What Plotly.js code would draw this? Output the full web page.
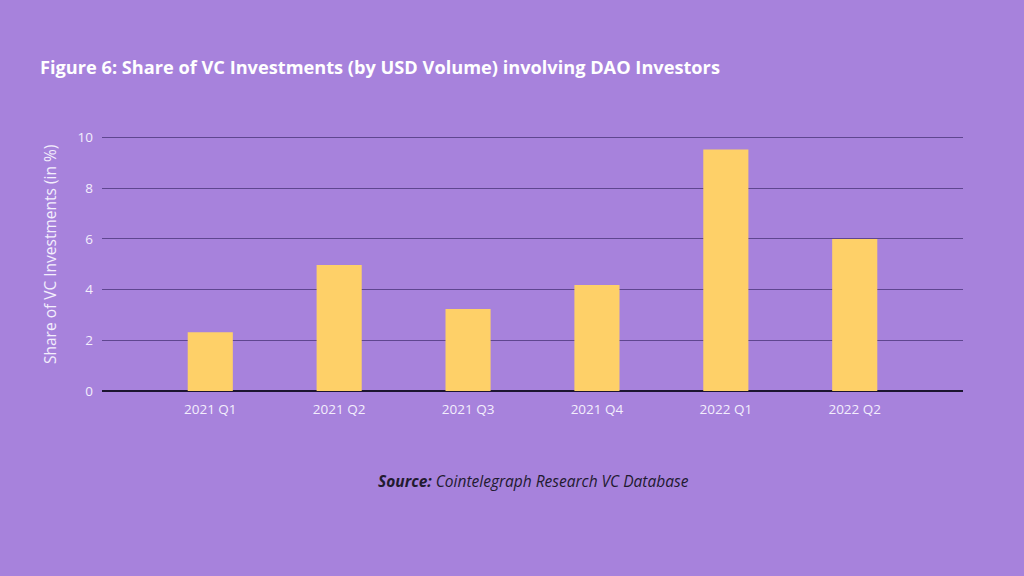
<!DOCTYPE html>
<html>
<head>
<meta charset="utf-8">
<script src="https://cdn.plot.ly/plotly-3.0.1.min.js"></script>
<style>
  html, body { margin: 0; padding: 0; background: #a782dc; }
  #chart { width: 1024px; height: 576px; }
</style>
</head>
<body>
<div id="chart"></div>
<script>
const quarters = ["2021 Q1", "2021 Q2", "2021 Q3", "2021 Q4", "2022 Q1", "2022 Q2"];
const sharePct = [2.32, 4.97, 3.24, 4.18, 9.53, 6.0];
const yTicks = [0, 2, 4, 6, 8, 10];

const bg = "#a782dc";
const fontFamily = "'Open Sans', Lato, sans-serif";

// plot box in pixels
const W = 1024, H = 576;
const M = { l: 102, r: 61, t: 135, b: 185 };
const plotW = W - M.l - M.r;
const plotH = H - M.t - M.b;

let trace = {
    type: "bar",
    x: quarters,
    y: sharePct,
    marker: { color: "#fed068", line: { width: 0 } },
    hoverinfo: "x+y"
};

let layout = {
    width: W,
    height: H,
    paper_bgcolor: bg,
    plot_bgcolor: bg,
    showlegend: false,
    bargap: 0.65,
    margin: M,
    font: { family: fontFamily, color: "#f3eefc", size: 13 },
    title: {
        text: "<b>Figure 6: Share of VC Investments (by USD Volume) involving DAO Investors</b>",
        x: 40 / W,
        xanchor: "left",
        y: 1 - 68 / H,
        yanchor: "middle",
        font: { family: fontFamily, size: 18.2, color: "#ffffff" }
    },
    xaxis: {
        type: "category",
        range: [-0.84, 5.84],
        showgrid: false,
        showline: false,
        zeroline: false,
        ticks: "",
        ticklabelstandoff: 8,
        tickfont: { size: 13.5, color: "#f3eefc" }
    },
    yaxis: {
        range: [0, 10.1],
        tickvals: yTicks,
        ticktext: yTicks.map(String),
        showgrid: true,
        gridcolor: "#5f4690",
        gridwidth: 1,
        zeroline: true,
        zerolinecolor: "#1c1530",
        zerolinewidth: 1.5,
        showline: false,
        ticks: "",
        ticklen: 0,
        ticklabelstandoff: 8,
        tickfont: { size: 13.5, color: "#f3eefc" }
    },
    annotations: [{
        text: "Share of VC Investments (in %)",
        textangle: -90,
        xref: "paper",
        yref: "paper",
        x: (50 - M.l) / plotW,
        y: 1 - (255 - M.t) / plotH,
        xanchor: "center",
        yanchor: "middle",
        showarrow: false,
        font: { family: fontFamily, size: 15.5, color: "#f3eefc" }
    }, {
        text: "<b><i>Source:</i></b><i> Cointelegraph Research VC Database</i>",
        xref: "paper",
        yref: "paper",
        x: (533 - M.l) / plotW,
        y: -(481 - (H - M.b)) / plotH,
        xanchor: "center",
        yanchor: "middle",
        showarrow: false,
        font: { family: fontFamily, size: 15.5, color: "#221a30" }
    }]
};

Plotly.newPlot("chart", [trace], layout, { displayModeBar: false, staticPlot: true });
</script>
</body>
</html>
